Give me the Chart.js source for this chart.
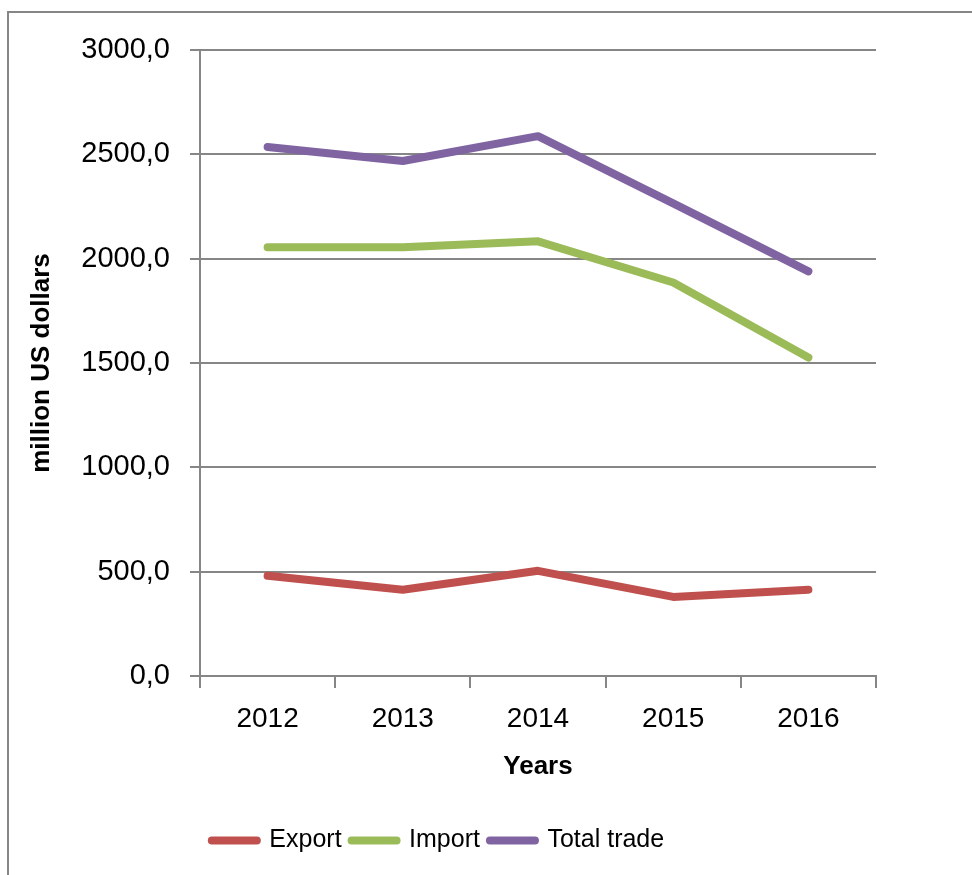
<!DOCTYPE html>
<html>
<head>
<meta charset="utf-8">
<script src="https://cdn.jsdelivr.net/npm/chart.js@4"></script>
<style>
  body { margin: 0; background: #fff; }
</style>
</head>
<body>
<canvas id="grafico" width="972" height="875"></canvas>
<script>
const years = ['2012', '2013', '2014', '2015', '2016'];
const exportValues = [480, 413, 504, 379, 413];
const importValues = [2055, 2055, 2083, 1886, 1526];
const totalValues = [2535, 2468, 2587, 2265, 1939];

const gris = '#868686';
const fuente = '"Liberation Sans", Arial, sans-serif';

// marco exterior del grafico
const marco = {
  id: 'marco',
  beforeDraw(chart) {
    const ctx = chart.ctx;
    ctx.save();
    ctx.fillStyle = '#fff';
    ctx.fillRect(0, 0, chart.width, chart.height);
    ctx.strokeStyle = gris;
    ctx.lineWidth = 2;
    ctx.strokeRect(8, 12, chart.width + 20, chart.height + 20);
    ctx.restore();
  }
};

function serie(label, data, color) {
  return {
    label,
    data,
    borderColor: color,
    backgroundColor: color,
    borderWidth: 8,
    borderCapStyle: 'round',
    borderJoinStyle: 'round',
    pointRadius: 0,
    pointStyle: 'line',
    tension: 0,
    fill: false
  };
}

new Chart(document.getElementById('grafico'), {
  type: 'line',
  data: {
    labels: years,
    datasets: [
      serie('Export', exportValues, '#C0504D'),
      serie('Import', importValues, '#9BBB59'),
      serie('Total trade', totalValues, '#8064A2')
    ]
  },
  options: {
    responsive: false,
    animation: false,
    layout: { padding: { left: 0, top: 50, right: 96, bottom: 12 } },
    plugins: {
      tooltip: { enabled: false },
      legend: {
        position: 'bottom',
        labels: {
          usePointStyle: true,
          pointStyleWidth: 45,
          padding: 10,
          color: '#000',
          font: { family: fuente, size: 25 },
          generateLabels: (chart) => {
            const items = Chart.defaults.plugins.legend.labels.generateLabels(chart);
            items.forEach(it => { it.lineCap = 'round'; it.lineWidth = 8; });
            return items;
          }
        }
      }
    },
    scales: {
      x: {
        offset: true,
        afterFit: (scale) => { scale.height = 142; },
        grid: {
          offset: true,
          drawOnChartArea: false,
          color: gris,
          lineWidth: 2,
          tickLength: 12
        },
        border: { color: gris, width: 2 },
        ticks: {
          color: '#000',
          padding: 14,
          font: { family: fuente, size: 28 }
        },
        title: {
          display: true,
          text: 'Years',
          color: '#000',
          padding: { top: 0, bottom: 36 },
          font: { family: fuente, size: 26, weight: 'bold' }
        }
      },
      y: {
        min: 0,
        max: 3000,
        afterFit: (scale) => { scale.width = 200; },
        grid: {
          color: gris,
          lineWidth: 2,
          tickLength: 10
        },
        border: { color: gris, width: 2 },
        ticks: {
          stepSize: 500,
          color: '#000',
          padding: 20,
          font: { family: fuente, size: 29 },
          callback: (v) => v.toFixed(1).replace('.', ',')
        },
        title: {
          display: true,
          text: 'million US dollars',
          color: '#000',
          padding: { top: 26, bottom: 0 },
          font: { family: fuente, size: 26, weight: 'bold' }
        }
      }
    }
  },
  plugins: [marco]
});
</script>
</body>
</html>
